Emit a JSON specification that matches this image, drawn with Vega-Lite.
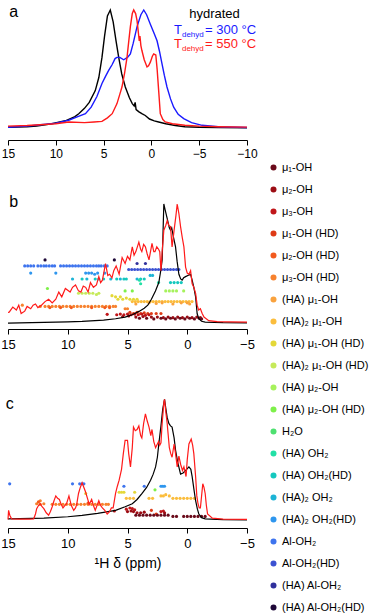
{
"$schema": "https://vega.github.io/schema/vega-lite/v6.json",
"padding": {"left": 0, "top": 3, "right": 0, "bottom": 0},
"background": "white",
"config": {
  "view": {"stroke": null},
  "font": "Liberation Sans",
  "axis": {"domainColor": "black", "tickColor": "black", "labelColor": "black", "labelFont": "Liberation Sans", "labelFontSize": 13, "tickSize": 5, "grid": false, "labelPadding": 4, "labelFlush": false, "titleFont": "Liberation Sans", "titleFontSize": 14, "titleFontWeight": "normal", "titleColor": "black", "titlePadding": 6},
  "legend": {"labelFont": "Liberation Sans", "labelFontSize": 11, "labelColor": "black"}
},
"datasets": {
  "species": [
    {"k": 1, "label": "μ₁-OH"}, {"k": 2, "label": "μ₂-OH"}, {"k": 3, "label": "μ₃-OH"},
    {"k": 4, "label": "μ₁-OH (HD)"}, {"k": 5, "label": "μ₂-OH (HD)"}, {"k": 6, "label": "μ₃-OH (HD)"},
    {"k": 7, "label": "(HA) μ₁-OH"}, {"k": 8, "label": "(HA)₂ μ₁-OH"}, {"k": 9, "label": "(HA) μ₁-OH (HD)"},
    {"k": 10, "label": "(HA)₂ μ₁-OH (HD)"}, {"k": 11, "label": "(HA) μ₂-OH"}, {"k": 12, "label": "(HA) μ₂-OH (HD)"},
    {"k": 13, "label": "H₂O"}, {"k": 14, "label": "(HA) OH₂"}, {"k": 15, "label": "(HA) OH₂(HD)"},
    {"k": 16, "label": "(HA)₂ OH₂"}, {"k": 17, "label": "(HA)₂ OH₂(HD)"}, {"k": 18, "label": "Al-OH₂"},
    {"k": 19, "label": "Al-OH₂(HD)"}, {"k": 20, "label": "(HA) Al-OH₂"}, {"k": 21, "label": "(HA) Al-OH₂(HD)"}
  ],
  "lines": [
    {"p":"a","s":"h","x":15,"y":0.01},{"p":"a","s":"h","x":13,"y":0.015},{"p":"a","s":"h","x":12,"y":0.02},{"p":"a","s":"h","x":10.4,"y":0.04},{"p":"a","s":"h","x":9,"y":0.065},{"p":"a","s":"h","x":8,"y":0.1},{"p":"a","s":"h","x":7.6,"y":0.125},{"p":"a","s":"h","x":7,"y":0.17},{"p":"a","s":"h","x":6.5,"y":0.22},{"p":"a","s":"h","x":5.87,"y":0.32},{"p":"a","s":"h","x":5.5,"y":0.43},{"p":"a","s":"h","x":5.17,"y":0.6},{"p":"a","s":"h","x":4.9,"y":0.78},{"p":"a","s":"h","x":4.6,"y":0.95},{"p":"a","s":"h","x":4.3,"y":1.0},{"p":"a","s":"h","x":4.0,"y":0.9},{"p":"a","s":"h","x":3.7,"y":0.74},{"p":"a","s":"h","x":3.42,"y":0.6},{"p":"a","s":"h","x":3.1,"y":0.46},{"p":"a","s":"h","x":2.73,"y":0.35},{"p":"a","s":"h","x":2.3,"y":0.26},{"p":"a","s":"h","x":2.0,"y":0.21},{"p":"a","s":"h","x":1.8,"y":0.19},{"p":"a","s":"h","x":1.7,"y":0.22},{"p":"a","s":"h","x":1.6,"y":0.16},{"p":"a","s":"h","x":1.3,"y":0.14},{"p":"a","s":"h","x":1.0,"y":0.125},{"p":"a","s":"h","x":0.64,"y":0.11},{"p":"a","s":"h","x":0.2,"y":0.08},{"p":"a","s":"h","x":-0.3,"y":0.065},{"p":"a","s":"h","x":-0.76,"y":0.055},{"p":"a","s":"h","x":-1.5,"y":0.04},{"p":"a","s":"h","x":-2.5,"y":0.025},{"p":"a","s":"h","x":-3.5,"y":0.015},{"p":"a","s":"h","x":-5,"y":0.01},{"p":"a","s":"h","x":-7,"y":0.007},{"p":"a","s":"h","x":-10,"y":0.005},
    {"p":"a","s":"b","x":15,"y":0.01},{"p":"a","s":"b","x":13,"y":0.02},{"p":"a","s":"b","x":12.1,"y":0.027},{"p":"a","s":"b","x":10,"y":0.045},{"p":"a","s":"b","x":8.65,"y":0.07},{"p":"a","s":"b","x":7.7,"y":0.1},{"p":"a","s":"b","x":6.9,"y":0.125},{"p":"a","s":"b","x":6.3,"y":0.18},{"p":"a","s":"b","x":5.7,"y":0.27},{"p":"a","s":"b","x":5.17,"y":0.38},{"p":"a","s":"b","x":4.8,"y":0.44},{"p":"a","s":"b","x":4.47,"y":0.49},{"p":"a","s":"b","x":4.1,"y":0.54},{"p":"a","s":"b","x":3.8,"y":0.59},{"p":"a","s":"b","x":3.6,"y":0.6},{"p":"a","s":"b","x":3.3,"y":0.6},{"p":"a","s":"b","x":2.9,"y":0.58},{"p":"a","s":"b","x":2.5,"y":0.6},{"p":"a","s":"b","x":2.2,"y":0.63},{"p":"a","s":"b","x":1.9,"y":0.72},{"p":"a","s":"b","x":1.5,"y":0.86},{"p":"a","s":"b","x":1.1,"y":0.96},{"p":"a","s":"b","x":0.8,"y":1.0},{"p":"a","s":"b","x":0.5,"y":0.96},{"p":"a","s":"b","x":0.11,"y":0.88},{"p":"a","s":"b","x":-0.3,"y":0.8},{"p":"a","s":"b","x":-0.59,"y":0.74},{"p":"a","s":"b","x":-0.85,"y":0.65},{"p":"a","s":"b","x":-1.1,"y":0.55},{"p":"a","s":"b","x":-1.35,"y":0.45},{"p":"a","s":"b","x":-1.63,"y":0.35},{"p":"a","s":"b","x":-2.0,"y":0.25},{"p":"a","s":"b","x":-2.33,"y":0.18},{"p":"a","s":"b","x":-2.8,"y":0.12},{"p":"a","s":"b","x":-3.38,"y":0.083},{"p":"a","s":"b","x":-4.2,"y":0.05},{"p":"a","s":"b","x":-5.3,"y":0.027},{"p":"a","s":"b","x":-7,"y":0.015},{"p":"a","s":"b","x":-10,"y":0.008},
    {"p":"a","s":"r","x":15,"y":0.02},{"p":"a","s":"r","x":13,"y":0.025},{"p":"a","s":"r","x":12.1,"y":0.03},{"p":"a","s":"r","x":10,"y":0.04},{"p":"a","s":"r","x":8.65,"y":0.055},{"p":"a","s":"r","x":7,"y":0.05},{"p":"a","s":"r","x":6,"y":0.055},{"p":"a","s":"r","x":5.17,"y":0.06},{"p":"a","s":"r","x":4.6,"y":0.09},{"p":"a","s":"r","x":4.1,"y":0.125},{"p":"a","s":"r","x":3.6,"y":0.21},{"p":"a","s":"r","x":3.3,"y":0.29},{"p":"a","s":"r","x":3.08,"y":0.35},{"p":"a","s":"r","x":2.8,"y":0.47},{"p":"a","s":"r","x":2.55,"y":0.6},{"p":"a","s":"r","x":2.35,"y":0.75},{"p":"a","s":"r","x":2.2,"y":0.86},{"p":"a","s":"r","x":2.0,"y":0.97},{"p":"a","s":"r","x":1.85,"y":1.0},{"p":"a","s":"r","x":1.65,"y":0.97},{"p":"a","s":"r","x":1.5,"y":0.91},{"p":"a","s":"r","x":1.35,"y":0.8},{"p":"a","s":"r","x":1.27,"y":0.74},{"p":"a","s":"r","x":1.2,"y":0.78},{"p":"a","s":"r","x":1.1,"y":0.7},{"p":"a","s":"r","x":1.0,"y":0.66},{"p":"a","s":"r","x":0.75,"y":0.58},{"p":"a","s":"r","x":0.46,"y":0.52},{"p":"a","s":"r","x":0.3,"y":0.53},{"p":"a","s":"r","x":0.11,"y":0.56},{"p":"a","s":"r","x":-0.1,"y":0.61},{"p":"a","s":"r","x":-0.24,"y":0.63},{"p":"a","s":"r","x":-0.46,"y":0.62},{"p":"a","s":"r","x":-0.6,"y":0.5},{"p":"a","s":"r","x":-0.76,"y":0.32},{"p":"a","s":"r","x":-0.93,"y":0.125},{"p":"a","s":"r","x":-1.2,"y":0.075},{"p":"a","s":"r","x":-1.45,"y":0.055},{"p":"a","s":"r","x":-2.2,"y":0.04},{"p":"a","s":"r","x":-3.5,"y":0.027},{"p":"a","s":"r","x":-5,"y":0.02},{"p":"a","s":"r","x":-7,"y":0.015},{"p":"a","s":"r","x":-10,"y":0.012},
    {"p":"b","s":"h","x":15,"y":0},{"p":"b","s":"h","x":12,"y":0.005},{"p":"b","s":"h","x":10,"y":0.01},{"p":"b","s":"h","x":8.8,"y":0.014},{"p":"b","s":"h","x":7,"y":0.025},{"p":"b","s":"h","x":6,"y":0.036},{"p":"b","s":"h","x":5.2,"y":0.05},{"p":"b","s":"h","x":4.6,"y":0.07},{"p":"b","s":"h","x":4.0,"y":0.1},{"p":"b","s":"h","x":3.6,"y":0.125},{"p":"b","s":"h","x":3.3,"y":0.15},{"p":"b","s":"h","x":3.0,"y":0.2},{"p":"b","s":"h","x":2.66,"y":0.27},{"p":"b","s":"h","x":2.38,"y":0.34},{"p":"b","s":"h","x":2.2,"y":0.45},{"p":"b","s":"h","x":2.1,"y":0.53},{"p":"b","s":"h","x":2.03,"y":0.75},{"p":"b","s":"h","x":1.96,"y":1.0},{"p":"b","s":"h","x":1.85,"y":0.95},{"p":"b","s":"h","x":1.68,"y":0.88},{"p":"b","s":"h","x":1.5,"y":0.8},{"p":"b","s":"h","x":1.4,"y":0.78},{"p":"b","s":"h","x":1.3,"y":0.8},{"p":"b","s":"h","x":1.15,"y":0.72},{"p":"b","s":"h","x":0.98,"y":0.64},{"p":"b","s":"h","x":0.85,"y":0.52},{"p":"b","s":"h","x":0.7,"y":0.41},{"p":"b","s":"h","x":0.55,"y":0.37},{"p":"b","s":"h","x":0.43,"y":0.36},{"p":"b","s":"h","x":0.3,"y":0.38},{"p":"b","s":"h","x":0.14,"y":0.39},{"p":"b","s":"h","x":-0.05,"y":0.4},{"p":"b","s":"h","x":-0.28,"y":0.41},{"p":"b","s":"h","x":-0.41,"y":0.36},{"p":"b","s":"h","x":-0.55,"y":0.3},{"p":"b","s":"h","x":-0.7,"y":0.22},{"p":"b","s":"h","x":-0.83,"y":0.078},{"p":"b","s":"h","x":-0.97,"y":0.036},{"p":"b","s":"h","x":-1.2,"y":0.015},{"p":"b","s":"h","x":-1.5,"y":0.008},{"p":"b","s":"h","x":-3,"y":0.003},{"p":"b","s":"h","x":-5,"y":0.002},
    {"p":"b","s":"r","x":15,"y":0.09},{"p":"b","s":"r","x":14.9,"y":0.092},{"p":"b","s":"r","x":14.6,"y":0.134},{"p":"b","s":"r","x":14.3,"y":0.11},{"p":"b","s":"r","x":14.1,"y":0.15},{"p":"b","s":"r","x":13.9,"y":0.08},{"p":"b","s":"r","x":13.6,"y":0.1},{"p":"b","s":"r","x":13.4,"y":0.14},{"p":"b","s":"r","x":13.1,"y":0.12},{"p":"b","s":"r","x":12.9,"y":0.15},{"p":"b","s":"r","x":12.7,"y":0.16},{"p":"b","s":"r","x":12.5,"y":0.13},{"p":"b","s":"r","x":12.2,"y":0.15},{"p":"b","s":"r","x":11.9,"y":0.18},{"p":"b","s":"r","x":11.6,"y":0.2},{"p":"b","s":"r","x":11.3,"y":0.17},{"p":"b","s":"r","x":11.0,"y":0.2},{"p":"b","s":"r","x":10.75,"y":0.26},{"p":"b","s":"r","x":10.5,"y":0.22},{"p":"b","s":"r","x":10.2,"y":0.29},{"p":"b","s":"r","x":9.8,"y":0.26},{"p":"b","s":"r","x":9.6,"y":0.3},{"p":"b","s":"r","x":9.35,"y":0.32},{"p":"b","s":"r","x":9.1,"y":0.27},{"p":"b","s":"r","x":8.9,"y":0.26},{"p":"b","s":"r","x":8.7,"y":0.31},{"p":"b","s":"r","x":8.5,"y":0.3},{"p":"b","s":"r","x":8.3,"y":0.26},{"p":"b","s":"r","x":8.1,"y":0.34},{"p":"b","s":"r","x":7.85,"y":0.3},{"p":"b","s":"r","x":7.6,"y":0.32},{"p":"b","s":"r","x":7.4,"y":0.39},{"p":"b","s":"r","x":7.25,"y":0.34},{"p":"b","s":"r","x":7.1,"y":0.36},{"p":"b","s":"r","x":6.84,"y":0.5},{"p":"b","s":"r","x":6.65,"y":0.4},{"p":"b","s":"r","x":6.5,"y":0.41},{"p":"b","s":"r","x":6.3,"y":0.38},{"p":"b","s":"r","x":6.15,"y":0.44},{"p":"b","s":"r","x":5.95,"y":0.48},{"p":"b","s":"r","x":5.7,"y":0.41},{"p":"b","s":"r","x":5.45,"y":0.55},{"p":"b","s":"r","x":5.2,"y":0.5},{"p":"b","s":"r","x":5.0,"y":0.56},{"p":"b","s":"r","x":4.8,"y":0.53},{"p":"b","s":"r","x":4.6,"y":0.64},{"p":"b","s":"r","x":4.45,"y":0.57},{"p":"b","s":"r","x":4.3,"y":0.6},{"p":"b","s":"r","x":4.05,"y":0.68},{"p":"b","s":"r","x":3.9,"y":0.62},{"p":"b","s":"r","x":3.8,"y":0.6},{"p":"b","s":"r","x":3.65,"y":0.66},{"p":"b","s":"r","x":3.5,"y":0.64},{"p":"b","s":"r","x":3.35,"y":0.58},{"p":"b","s":"r","x":3.2,"y":0.53},{"p":"b","s":"r","x":2.95,"y":0.67},{"p":"b","s":"r","x":2.8,"y":0.6},{"p":"b","s":"r","x":2.7,"y":0.6},{"p":"b","s":"r","x":2.55,"y":0.64},{"p":"b","s":"r","x":2.4,"y":0.62},{"p":"b","s":"r","x":2.3,"y":0.6},{"p":"b","s":"r","x":2.2,"y":0.44},{"p":"b","s":"r","x":2.1,"y":0.6},{"p":"b","s":"r","x":1.96,"y":0.78},{"p":"b","s":"r","x":1.8,"y":0.82},{"p":"b","s":"r","x":1.68,"y":0.86},{"p":"b","s":"r","x":1.55,"y":0.82},{"p":"b","s":"r","x":1.4,"y":0.81},{"p":"b","s":"r","x":1.27,"y":0.64},{"p":"b","s":"r","x":1.1,"y":0.78},{"p":"b","s":"r","x":0.95,"y":0.9},{"p":"b","s":"r","x":0.84,"y":1.0},{"p":"b","s":"r","x":0.7,"y":0.92},{"p":"b","s":"r","x":0.56,"y":0.81},{"p":"b","s":"r","x":0.42,"y":0.72},{"p":"b","s":"r","x":0.28,"y":0.64},{"p":"b","s":"r","x":0.14,"y":0.47},{"p":"b","s":"r","x":0.0,"y":0.42},{"p":"b","s":"r","x":-0.14,"y":0.41},{"p":"b","s":"r","x":-0.28,"y":0.44},{"p":"b","s":"r","x":-0.41,"y":0.33},{"p":"b","s":"r","x":-0.55,"y":0.3},{"p":"b","s":"r","x":-0.7,"y":0.25},{"p":"b","s":"r","x":-0.83,"y":0.15},{"p":"b","s":"r","x":-0.95,"y":0.11},{"p":"b","s":"r","x":-1.1,"y":0.12},{"p":"b","s":"r","x":-1.25,"y":0.08},{"p":"b","s":"r","x":-1.4,"y":0.05},{"p":"b","s":"r","x":-1.8,"y":0.02},{"p":"b","s":"r","x":-2.5,"y":0.012},{"p":"b","s":"r","x":-3.5,"y":0.01},{"p":"b","s":"r","x":-5,"y":0.008},
    {"p":"c","s":"h","x":15,"y":0.01},{"p":"c","s":"h","x":13,"y":0.013},{"p":"c","s":"h","x":12,"y":0.015},{"p":"c","s":"h","x":10,"y":0.027},{"p":"c","s":"h","x":8.8,"y":0.039},{"p":"c","s":"h","x":7.5,"y":0.055},{"p":"c","s":"h","x":6.0,"y":0.08},{"p":"c","s":"h","x":5.2,"y":0.11},{"p":"c","s":"h","x":4.6,"y":0.135},{"p":"c","s":"h","x":4.2,"y":0.17},{"p":"c","s":"h","x":3.78,"y":0.22},{"p":"c","s":"h","x":3.4,"y":0.27},{"p":"c","s":"h","x":3.07,"y":0.33},{"p":"c","s":"h","x":2.85,"y":0.38},{"p":"c","s":"h","x":2.65,"y":0.44},{"p":"c","s":"h","x":2.5,"y":0.52},{"p":"c","s":"h","x":2.38,"y":0.63},{"p":"c","s":"h","x":2.2,"y":0.78},{"p":"c","s":"h","x":2.05,"y":0.92},{"p":"c","s":"h","x":1.9,"y":1.0},{"p":"c","s":"h","x":1.8,"y":0.93},{"p":"c","s":"h","x":1.68,"y":0.85},{"p":"c","s":"h","x":1.54,"y":0.8},{"p":"c","s":"h","x":1.4,"y":0.78},{"p":"c","s":"h","x":1.27,"y":0.77},{"p":"c","s":"h","x":1.1,"y":0.68},{"p":"c","s":"h","x":0.98,"y":0.58},{"p":"c","s":"h","x":0.8,"y":0.48},{"p":"c","s":"h","x":0.56,"y":0.38},{"p":"c","s":"h","x":0.35,"y":0.39},{"p":"c","s":"h","x":0.14,"y":0.41},{"p":"c","s":"h","x":-0.14,"y":0.44},{"p":"c","s":"h","x":-0.3,"y":0.42},{"p":"c","s":"h","x":-0.41,"y":0.36},{"p":"c","s":"h","x":-0.55,"y":0.26},{"p":"c","s":"h","x":-0.7,"y":0.16},{"p":"c","s":"h","x":-0.85,"y":0.09},{"p":"c","s":"h","x":-0.97,"y":0.05},{"p":"c","s":"h","x":-1.2,"y":0.02},{"p":"c","s":"h","x":-1.5,"y":0.01},{"p":"c","s":"h","x":-3,"y":0.003},{"p":"c","s":"h","x":-5,"y":0.002},
    {"p":"c","s":"r","x":15,"y":0.005},{"p":"c","s":"r","x":14.95,"y":0.08},{"p":"c","s":"r","x":14.85,"y":0.04},{"p":"c","s":"r","x":14.7,"y":0.01},{"p":"c","s":"r","x":14,"y":0.008},{"p":"c","s":"r","x":13.2,"y":0.008},{"p":"c","s":"r","x":12.85,"y":0.01},{"p":"c","s":"r","x":12.7,"y":0.05},{"p":"c","s":"r","x":12.6,"y":0.094},{"p":"c","s":"r","x":12.45,"y":0.12},{"p":"c","s":"r","x":12.3,"y":0.135},{"p":"c","s":"r","x":12.15,"y":0.11},{"p":"c","s":"r","x":12.0,"y":0.094},{"p":"c","s":"r","x":11.8,"y":0.06},{"p":"c","s":"r","x":11.6,"y":0.04},{"p":"c","s":"r","x":11.45,"y":0.07},{"p":"c","s":"r","x":11.3,"y":0.11},{"p":"c","s":"r","x":11.15,"y":0.16},{"p":"c","s":"r","x":11.0,"y":0.2},{"p":"c","s":"r","x":10.85,"y":0.18},{"p":"c","s":"r","x":10.7,"y":0.17},{"p":"c","s":"r","x":10.55,"y":0.13},{"p":"c","s":"r","x":10.4,"y":0.1},{"p":"c","s":"r","x":10.25,"y":0.12},{"p":"c","s":"r","x":10.1,"y":0.135},{"p":"c","s":"r","x":9.9,"y":0.2},{"p":"c","s":"r","x":9.7,"y":0.12},{"p":"c","s":"r","x":9.5,"y":0.08},{"p":"c","s":"r","x":9.35,"y":0.1},{"p":"c","s":"r","x":9.25,"y":0.13},{"p":"c","s":"r","x":9.1,"y":0.22},{"p":"c","s":"r","x":8.95,"y":0.27},{"p":"c","s":"r","x":8.8,"y":0.31},{"p":"c","s":"r","x":8.65,"y":0.27},{"p":"c","s":"r","x":8.5,"y":0.23},{"p":"c","s":"r","x":8.35,"y":0.18},{"p":"c","s":"r","x":8.2,"y":0.13},{"p":"c","s":"r","x":8.0,"y":0.17},{"p":"c","s":"r","x":7.85,"y":0.12},{"p":"c","s":"r","x":7.7,"y":0.08},{"p":"c","s":"r","x":7.55,"y":0.12},{"p":"c","s":"r","x":7.4,"y":0.16},{"p":"c","s":"r","x":7.25,"y":0.12},{"p":"c","s":"r","x":7.1,"y":0.1},{"p":"c","s":"r","x":6.9,"y":0.08},{"p":"c","s":"r","x":6.7,"y":0.05},{"p":"c","s":"r","x":6.5,"y":0.07},{"p":"c","s":"r","x":6.35,"y":0.1},{"p":"c","s":"r","x":6.2,"y":0.1},{"p":"c","s":"r","x":6.0,"y":0.22},{"p":"c","s":"r","x":5.85,"y":0.28},{"p":"c","s":"r","x":5.7,"y":0.33},{"p":"c","s":"r","x":5.5,"y":0.42},{"p":"c","s":"r","x":5.35,"y":0.55},{"p":"c","s":"r","x":5.2,"y":0.66},{"p":"c","s":"r","x":5.0,"y":0.66},{"p":"c","s":"r","x":4.9,"y":0.55},{"p":"c","s":"r","x":4.75,"y":0.44},{"p":"c","s":"r","x":4.6,"y":0.6},{"p":"c","s":"r","x":4.5,"y":0.77},{"p":"c","s":"r","x":4.35,"y":0.74},{"p":"c","s":"r","x":4.2,"y":0.75},{"p":"c","s":"r","x":4.05,"y":0.78},{"p":"c","s":"r","x":3.9,"y":0.7},{"p":"c","s":"r","x":3.8,"y":0.68},{"p":"c","s":"r","x":3.65,"y":0.8},{"p":"c","s":"r","x":3.5,"y":0.88},{"p":"c","s":"r","x":3.35,"y":0.82},{"p":"c","s":"r","x":3.2,"y":0.77},{"p":"c","s":"r","x":3.05,"y":0.7},{"p":"c","s":"r","x":2.95,"y":0.75},{"p":"c","s":"r","x":2.8,"y":0.65},{"p":"c","s":"r","x":2.65,"y":0.6},{"p":"c","s":"r","x":2.5,"y":0.63},{"p":"c","s":"r","x":2.4,"y":0.65},{"p":"c","s":"r","x":2.3,"y":0.62},{"p":"c","s":"r","x":2.2,"y":0.64},{"p":"c","s":"r","x":2.1,"y":0.8},{"p":"c","s":"r","x":1.95,"y":0.98},{"p":"c","s":"r","x":1.9,"y":1.0},{"p":"c","s":"r","x":1.8,"y":0.9},{"p":"c","s":"r","x":1.68,"y":0.8},{"p":"c","s":"r","x":1.5,"y":0.6},{"p":"c","s":"r","x":1.38,"y":0.55},{"p":"c","s":"r","x":1.27,"y":0.52},{"p":"c","s":"r","x":1.1,"y":0.63},{"p":"c","s":"r","x":0.98,"y":0.55},{"p":"c","s":"r","x":0.84,"y":0.44},{"p":"c","s":"r","x":0.7,"y":0.53},{"p":"c","s":"r","x":0.55,"y":0.46},{"p":"c","s":"r","x":0.4,"y":0.41},{"p":"c","s":"r","x":0.28,"y":0.44},{"p":"c","s":"r","x":0.1,"y":0.36},{"p":"c","s":"r","x":0.0,"y":0.5},{"p":"c","s":"r","x":-0.14,"y":0.63},{"p":"c","s":"r","x":-0.33,"y":0.67},{"p":"c","s":"r","x":-0.45,"y":0.62},{"p":"c","s":"r","x":-0.55,"y":0.55},{"p":"c","s":"r","x":-0.7,"y":0.36},{"p":"c","s":"r","x":-0.8,"y":0.2},{"p":"c","s":"r","x":-0.9,"y":0.135},{"p":"c","s":"r","x":-1.0,"y":0.1},{"p":"c","s":"r","x":-1.1,"y":0.1},{"p":"c","s":"r","x":-1.2,"y":0.2},{"p":"c","s":"r","x":-1.3,"y":0.3},{"p":"c","s":"r","x":-1.4,"y":0.27},{"p":"c","s":"r","x":-1.5,"y":0.22},{"p":"c","s":"r","x":-1.6,"y":0.12},{"p":"c","s":"r","x":-1.7,"y":0.05},{"p":"c","s":"r","x":-2.1,"y":0.015},{"p":"c","s":"r","x":-3,"y":0.008},{"p":"c","s":"r","x":-5,"y":0.005}
  ],
  "pts": [
    {"p":"b","k":21,"x":11.9,"y":0.53},{"p":"b","k":21,"x":6.1,"y":0.53},
    {"p":"b","k":20,"x":4.2,"y":0.5},{"p":"b","k":20,"x":3.5,"y":0.5},
    {"p":"b","k":18,"x":13.6,"y":0.48},{"p":"b","k":18,"x":13.35,"y":0.48},{"p":"b","k":18,"x":13.1,"y":0.48},{"p":"b","k":18,"x":12.85,"y":0.48},{"p":"b","k":18,"x":12.5,"y":0.48},{"p":"b","k":18,"x":12.25,"y":0.48},{"p":"b","k":18,"x":12.0,"y":0.48},{"p":"b","k":18,"x":11.8,"y":0.48},{"p":"b","k":18,"x":11.55,"y":0.48},{"p":"b","k":18,"x":11.3,"y":0.48},{"p":"b","k":18,"x":11.1,"y":0.48},{"p":"b","k":18,"x":10.6,"y":0.48},{"p":"b","k":18,"x":10.35,"y":0.48},{"p":"b","k":18,"x":10.1,"y":0.48},{"p":"b","k":18,"x":9.85,"y":0.48},{"p":"b","k":18,"x":9.6,"y":0.48},{"p":"b","k":18,"x":9.35,"y":0.48},{"p":"b","k":18,"x":9.1,"y":0.48},{"p":"b","k":18,"x":8.85,"y":0.48},{"p":"b","k":18,"x":8.6,"y":0.48},{"p":"b","k":18,"x":8.35,"y":0.48},{"p":"b","k":18,"x":8.1,"y":0.48},{"p":"b","k":18,"x":7.85,"y":0.48},{"p":"b","k":18,"x":7.6,"y":0.48},{"p":"b","k":18,"x":7.4,"y":0.48},{"p":"b","k":18,"x":7.2,"y":0.48},{"p":"b","k":18,"x":6.95,"y":0.48},{"p":"b","k":18,"x":6.7,"y":0.48},
    {"p":"b","k":19,"x":4.9,"y":0.45},{"p":"b","k":19,"x":4.65,"y":0.45},{"p":"b","k":19,"x":4.4,"y":0.45},{"p":"b","k":19,"x":4.15,"y":0.45},{"p":"b","k":19,"x":3.9,"y":0.45},{"p":"b","k":19,"x":3.65,"y":0.45},{"p":"b","k":19,"x":3.4,"y":0.45},{"p":"b","k":19,"x":3.15,"y":0.45},{"p":"b","k":19,"x":2.9,"y":0.45},{"p":"b","k":19,"x":2.65,"y":0.45},{"p":"b","k":19,"x":2.4,"y":0.45},{"p":"b","k":19,"x":2.15,"y":0.45},{"p":"b","k":19,"x":1.9,"y":0.45},{"p":"b","k":19,"x":1.65,"y":0.45},{"p":"b","k":19,"x":1.4,"y":0.45},{"p":"b","k":19,"x":1.15,"y":0.45},{"p":"b","k":19,"x":0.9,"y":0.45},{"p":"b","k":19,"x":0.7,"y":0.45},
    {"p":"b","k":17,"x":13.1,"y":0.42},{"p":"b","k":17,"x":11.0,"y":0.42},{"p":"b","k":17,"x":8.5,"y":0.42},{"p":"b","k":17,"x":8.25,"y":0.42},{"p":"b","k":17,"x":8.0,"y":0.42},{"p":"b","k":17,"x":7.75,"y":0.41},{"p":"b","k":17,"x":7.5,"y":0.42},{"p":"b","k":17,"x":6.9,"y":0.42},
    {"p":"b","k":16,"x":9.6,"y":0.37},{"p":"b","k":16,"x":8.4,"y":0.37},{"p":"b","k":16,"x":7.4,"y":0.37},{"p":"b","k":16,"x":6.4,"y":0.37},{"p":"b","k":16,"x":5.6,"y":0.37},{"p":"b","k":16,"x":4.2,"y":0.37},{"p":"b","k":16,"x":3.1,"y":0.4},{"p":"b","k":16,"x":2.9,"y":0.4},
    {"p":"b","k":15,"x":8.8,"y":0.37},{"p":"b","k":15,"x":7.7,"y":0.37},{"p":"b","k":15,"x":7.0,"y":0.37},{"p":"b","k":15,"x":5.9,"y":0.37},{"p":"b","k":15,"x":5.3,"y":0.37},{"p":"b","k":15,"x":5.1,"y":0.37},{"p":"b","k":15,"x":3.9,"y":0.37},{"p":"b","k":15,"x":3.6,"y":0.37},{"p":"b","k":15,"x":1.4,"y":0.34},{"p":"b","k":15,"x":1.1,"y":0.34},{"p":"b","k":15,"x":0.8,"y":0.34},{"p":"b","k":15,"x":0.5,"y":0.34},
    {"p":"b","k":14,"x":3.9,"y":0.33},{"p":"b","k":14,"x":2.4,"y":0.34},{"p":"b","k":14,"x":4.0,"y":0.36},
    {"p":"b","k":12,"x":11.7,"y":0.29},{"p":"b","k":12,"x":5.2,"y":0.27},{"p":"b","k":12,"x":4.6,"y":0.27},
    {"p":"b","k":11,"x":1.8,"y":0.27},{"p":"b","k":11,"x":1.5,"y":0.27},{"p":"b","k":11,"x":1.2,"y":0.27},{"p":"b","k":11,"x":0.9,"y":0.27},{"p":"b","k":11,"x":0.3,"y":0.27},
    {"p":"b","k":10,"x":9.1,"y":0.25},{"p":"b","k":10,"x":8.8,"y":0.25},{"p":"b","k":10,"x":8.5,"y":0.25},{"p":"b","k":10,"x":8.2,"y":0.25},{"p":"b","k":10,"x":7.9,"y":0.25},{"p":"b","k":10,"x":7.6,"y":0.24},{"p":"b","k":10,"x":7.4,"y":0.25},
    {"p":"b","k":9,"x":6.3,"y":0.23},{"p":"b","k":9,"x":6.0,"y":0.22},{"p":"b","k":9,"x":5.8,"y":0.2},{"p":"b","k":9,"x":5.6,"y":0.22},{"p":"b","k":9,"x":5.4,"y":0.2},{"p":"b","k":9,"x":5.1,"y":0.21},{"p":"b","k":9,"x":4.8,"y":0.2},{"p":"b","k":9,"x":4.5,"y":0.2},{"p":"b","k":9,"x":4.2,"y":0.2},
    {"p":"b","k":8,"x":4.6,"y":0.18},{"p":"b","k":8,"x":4.35,"y":0.18},{"p":"b","k":8,"x":4.1,"y":0.18},{"p":"b","k":8,"x":3.85,"y":0.18},{"p":"b","k":8,"x":3.6,"y":0.18},{"p":"b","k":8,"x":3.35,"y":0.18},{"p":"b","k":8,"x":3.1,"y":0.18},{"p":"b","k":8,"x":2.85,"y":0.18},{"p":"b","k":8,"x":2.6,"y":0.18},{"p":"b","k":8,"x":2.35,"y":0.18},{"p":"b","k":8,"x":2.1,"y":0.18},{"p":"b","k":8,"x":1.85,"y":0.18},{"p":"b","k":8,"x":1.6,"y":0.18},{"p":"b","k":8,"x":1.35,"y":0.18},{"p":"b","k":8,"x":1.1,"y":0.18},{"p":"b","k":8,"x":0.85,"y":0.18},{"p":"b","k":8,"x":0.6,"y":0.18},{"p":"b","k":8,"x":0.35,"y":0.18},{"p":"b","k":8,"x":0.1,"y":0.18},{"p":"b","k":8,"x":-0.15,"y":0.18},{"p":"b","k":8,"x":-0.4,"y":0.18},
    {"p":"b","k":7,"x":4.3,"y":0.16},{"p":"b","k":7,"x":3.2,"y":0.17},{"p":"b","k":7,"x":2.6,"y":0.165},{"p":"b","k":7,"x":2.1,"y":0.17},{"p":"b","k":7,"x":1.2,"y":0.16},{"p":"b","k":7,"x":0.5,"y":0.17},{"p":"b","k":7,"x":0.0,"y":0.17},{"p":"b","k":7,"x":-0.2,"y":0.16},
    {"p":"b","k":6,"x":13.8,"y":0.15},{"p":"b","k":6,"x":12.3,"y":0.14},{"p":"b","k":6,"x":11.9,"y":0.14},{"p":"b","k":6,"x":11.6,"y":0.14},{"p":"b","k":6,"x":11.3,"y":0.14},{"p":"b","k":6,"x":11.0,"y":0.14},{"p":"b","k":6,"x":10.7,"y":0.14},{"p":"b","k":6,"x":10.4,"y":0.14},{"p":"b","k":6,"x":10.1,"y":0.14},{"p":"b","k":6,"x":9.8,"y":0.14},{"p":"b","k":6,"x":9.5,"y":0.14},{"p":"b","k":6,"x":9.2,"y":0.14},{"p":"b","k":6,"x":8.9,"y":0.14},{"p":"b","k":6,"x":8.6,"y":0.14},{"p":"b","k":6,"x":8.3,"y":0.14},{"p":"b","k":6,"x":8.0,"y":0.14},{"p":"b","k":6,"x":7.7,"y":0.14},{"p":"b","k":6,"x":7.4,"y":0.14},{"p":"b","k":6,"x":7.1,"y":0.14},{"p":"b","k":6,"x":6.8,"y":0.14},{"p":"b","k":6,"x":6.5,"y":0.14},{"p":"b","k":6,"x":6.2,"y":0.14},{"p":"b","k":6,"x":6.0,"y":0.14},{"p":"b","k":6,"x":5.2,"y":0.12},{"p":"b","k":6,"x":5.0,"y":0.12},
    {"p":"b","k":5,"x":11.5,"y":0.13},{"p":"b","k":5,"x":10.6,"y":0.13},{"p":"b","k":5,"x":9.7,"y":0.13},{"p":"b","k":5,"x":8.0,"y":0.13},{"p":"b","k":5,"x":6.9,"y":0.13},{"p":"b","k":5,"x":6.5,"y":0.13},
    {"p":"b","k":4,"x":4.8,"y":0.09},{"p":"b","k":4,"x":4.5,"y":0.08},{"p":"b","k":4,"x":4.2,"y":0.09},{"p":"b","k":4,"x":3.9,"y":0.08},{"p":"b","k":4,"x":3.6,"y":0.085},{"p":"b","k":4,"x":3.3,"y":0.08},{"p":"b","k":4,"x":3.0,"y":0.08},{"p":"b","k":4,"x":2.6,"y":0.08},{"p":"b","k":4,"x":2.2,"y":0.08},
    {"p":"b","k":3,"x":6.7,"y":0.073},{"p":"b","k":3,"x":5.9,"y":0.07},{"p":"b","k":3,"x":5.6,"y":0.075},{"p":"b","k":3,"x":5.3,"y":0.07},{"p":"b","k":3,"x":5.0,"y":0.075},{"p":"b","k":3,"x":4.7,"y":0.07},{"p":"b","k":3,"x":4.4,"y":0.075},{"p":"b","k":3,"x":4.1,"y":0.07},{"p":"b","k":3,"x":3.8,"y":0.075},{"p":"b","k":3,"x":3.5,"y":0.065},{"p":"b","k":3,"x":3.2,"y":0.07},
    {"p":"b","k":2,"x":5.4,"y":0.055},{"p":"b","k":2,"x":4.9,"y":0.06},{"p":"b","k":2,"x":4.3,"y":0.05},{"p":"b","k":2,"x":3.7,"y":0.055},{"p":"b","k":2,"x":3.0,"y":0.05},{"p":"b","k":2,"x":2.5,"y":0.05},{"p":"b","k":2,"x":2.0,"y":0.045},{"p":"b","k":2,"x":1.6,"y":0.05},{"p":"b","k":2,"x":1.2,"y":0.045},{"p":"b","k":2,"x":0.8,"y":0.05},{"p":"b","k":2,"x":0.4,"y":0.045},{"p":"b","k":2,"x":0.0,"y":0.05},{"p":"b","k":2,"x":-0.4,"y":0.045},{"p":"b","k":2,"x":-0.8,"y":0.05},{"p":"b","k":2,"x":-1.1,"y":0.045},
    {"p":"b","k":1,"x":4.0,"y":0.04},{"p":"b","k":1,"x":3.4,"y":0.04},{"p":"b","k":1,"x":2.8,"y":0.035},{"p":"b","k":1,"x":2.2,"y":0.04},{"p":"b","k":1,"x":1.8,"y":0.035},{"p":"b","k":1,"x":1.4,"y":0.04},{"p":"b","k":1,"x":1.0,"y":0.035},{"p":"b","k":1,"x":0.6,"y":0.04},{"p":"b","k":1,"x":0.2,"y":0.035},{"p":"b","k":1,"x":-0.2,"y":0.04},{"p":"b","k":1,"x":-0.6,"y":0.035},{"p":"b","k":1,"x":-1.0,"y":0.04},{"p":"b","k":1,"x":-1.2,"y":0.035},
    {"p":"c","k":18,"x":14.86,"y":0.3},{"p":"c","k":18,"x":9.6,"y":0.3},{"p":"c","k":18,"x":9.0,"y":0.3},{"p":"c","k":18,"x":8.8,"y":0.3},{"p":"c","k":18,"x":8.65,"y":0.3},{"p":"c","k":18,"x":5.3,"y":0.28},{"p":"c","k":18,"x":3.6,"y":0.28},
    {"p":"c","k":17,"x":2.2,"y":0.28},{"p":"c","k":17,"x":2.05,"y":0.28},{"p":"c","k":17,"x":1.9,"y":0.28},
    {"p":"c","k":9,"x":8.5,"y":0.22},{"p":"c","k":9,"x":5.7,"y":0.23},{"p":"c","k":9,"x":5.5,"y":0.23},{"p":"c","k":9,"x":5.3,"y":0.23},{"p":"c","k":9,"x":4.4,"y":0.23},
    {"p":"c","k":12,"x":2.7,"y":0.25},
    {"p":"c","k":8,"x":5.1,"y":0.18},{"p":"c","k":8,"x":4.8,"y":0.18},{"p":"c","k":8,"x":4.5,"y":0.18},{"p":"c","k":8,"x":3.2,"y":0.18},{"p":"c","k":8,"x":2.9,"y":0.18},{"p":"c","k":8,"x":2.2,"y":0.2},{"p":"c","k":8,"x":2.0,"y":0.2},{"p":"c","k":8,"x":1.8,"y":0.21},{"p":"c","k":8,"x":1.5,"y":0.2},{"p":"c","k":8,"x":1.2,"y":0.18},{"p":"c","k":8,"x":0.9,"y":0.18},{"p":"c","k":8,"x":0.6,"y":0.18},{"p":"c","k":8,"x":0.3,"y":0.18},{"p":"c","k":8,"x":0.0,"y":0.18},{"p":"c","k":8,"x":-0.3,"y":0.18},{"p":"c","k":8,"x":-0.6,"y":0.18},
    {"p":"c","k":6,"x":12.6,"y":0.135},{"p":"c","k":6,"x":12.3,"y":0.16},{"p":"c","k":6,"x":12.3,"y":0.13},{"p":"c","k":6,"x":12.0,"y":0.135},{"p":"c","k":6,"x":11.3,"y":0.13},{"p":"c","k":6,"x":11.0,"y":0.13},{"p":"c","k":6,"x":10.7,"y":0.13},{"p":"c","k":6,"x":10.4,"y":0.13},{"p":"c","k":6,"x":10.1,"y":0.13},{"p":"c","k":6,"x":9.8,"y":0.13},{"p":"c","k":6,"x":9.5,"y":0.13},{"p":"c","k":6,"x":9.2,"y":0.13},{"p":"c","k":6,"x":8.9,"y":0.13},{"p":"c","k":6,"x":8.6,"y":0.13},{"p":"c","k":6,"x":8.3,"y":0.13},{"p":"c","k":6,"x":8.0,"y":0.13},{"p":"c","k":6,"x":7.7,"y":0.13},{"p":"c","k":6,"x":7.4,"y":0.13},{"p":"c","k":6,"x":7.1,"y":0.13},{"p":"c","k":6,"x":6.8,"y":0.13},{"p":"c","k":6,"x":6.6,"y":0.13},
    {"p":"c","k":5,"x":12.45,"y":0.15},{"p":"c","k":5,"x":8.3,"y":0.14},
    {"p":"c","k":4,"x":3.0,"y":0.08},{"p":"c","k":4,"x":2.6,"y":0.05},
    {"p":"c","k":3,"x":6.1,"y":0.075},{"p":"c","k":3,"x":5.1,"y":0.09},{"p":"c","k":3,"x":4.8,"y":0.1},{"p":"c","k":3,"x":4.6,"y":0.095},{"p":"c","k":3,"x":4.4,"y":0.085},{"p":"c","k":3,"x":2.2,"y":0.07},{"p":"c","k":3,"x":2.0,"y":0.075},
    {"p":"c","k":2,"x":5.0,"y":0.07},{"p":"c","k":2,"x":4.7,"y":0.075},{"p":"c","k":2,"x":4.5,"y":0.07},{"p":"c","k":2,"x":4.2,"y":0.06},{"p":"c","k":2,"x":3.9,"y":0.06},{"p":"c","k":2,"x":3.6,"y":0.065},{"p":"c","k":2,"x":1.9,"y":0.06},
    {"p":"c","k":1,"x":4.3,"y":0.04},{"p":"c","k":1,"x":4.0,"y":0.04},{"p":"c","k":1,"x":3.7,"y":0.04},{"p":"c","k":1,"x":3.4,"y":0.04},{"p":"c","k":1,"x":3.1,"y":0.04},{"p":"c","k":1,"x":2.8,"y":0.04},{"p":"c","k":1,"x":2.5,"y":0.04},{"p":"c","k":1,"x":2.2,"y":0.04},{"p":"c","k":1,"x":1.9,"y":0.04},{"p":"c","k":1,"x":1.6,"y":0.04},{"p":"c","k":1,"x":1.2,"y":0.03},{"p":"c","k":1,"x":0.9,"y":0.03},{"p":"c","k":1,"x":0.3,"y":0.03},{"p":"c","k":1,"x":0.0,"y":0.03},{"p":"c","k":1,"x":-0.3,"y":0.03},{"p":"c","k":1,"x":-0.6,"y":0.03},{"p":"c","k":1,"x":-0.9,"y":0.03},{"p":"c","k":1,"x":-1.2,"y":0.03},{"p":"c","k":1,"x":-1.5,"y":0.03}
  ]
},
"bounds": "flush",
"spacing": 54,
"resolve": {"scale": {"x": "independent", "y": "independent", "color": "shared", "stroke": "independent"}},
"vconcat": [
  {
    "width": 239, "height": 130,
    "layer": [
      {
        "data": {"name": "lines"},
        "transform": [{"filter": {"field": "p", "equal": "a"}}],
        "mark": {"type": "line", "strokeWidth": 1.4},
        "encoding": {
          "x": {"field": "x", "type": "quantitative", "scale": {"domain": [15, -10], "nice": false, "zero": false}, "axis": {"values": [15, 10, 5, 0, -5, -10], "title": null, "labelFontSize": 12, "labelPadding": 3}},
          "y": {"field": "y", "type": "quantitative", "scale": {"domain": [-0.097, 1.0], "nice": false, "zero": false}, "axis": null},
          "stroke": {"field": "s", "type": "nominal", "scale": {"domain": ["b", "r", "h"], "range": ["#1a1aff", "#ff1a1a", "#000000"]}, "legend": null},
          "order": {"field": "x", "type": "quantitative"}
        }
      },
      {"data": {"values": [{}]}, "mark": {"type": "text", "text": "a", "fontSize": 16, "align": "center", "baseline": "middle", "color": "black"}, "encoding": {"x": {"datum": 14.4, "type": "quantitative"}, "y": {"datum": 0.985, "type": "quantitative"}}},
      {"data": {"values": [{}]}, "mark": {"type": "text", "text": "hydrated", "fontSize": 13, "align": "center", "baseline": "middle", "color": "black"}, "encoding": {"x": {"datum": -6.6, "type": "quantitative"}, "y": {"datum": 0.969, "type": "quantitative"}}},
      {"data": {"values": [{}]}, "mark": {"type": "text", "text": "T", "fontSize": 13, "align": "left", "baseline": "middle", "color": "#1a1aff"}, "encoding": {"x": {"datum": -2.36, "type": "quantitative"}, "y": {"datum": 0.834, "type": "quantitative"}}},
      {"data": {"values": [{}]}, "mark": {"type": "text", "text": "dehyd", "fontSize": 8, "align": "left", "baseline": "middle", "color": "#1a1aff", "dx": 8, "dy": 5}, "encoding": {"x": {"datum": -2.36, "type": "quantitative"}, "y": {"datum": 0.834, "type": "quantitative"}}},
      {"data": {"values": [{}]}, "mark": {"type": "text", "text": "= 300 °C", "fontSize": 13, "align": "left", "baseline": "middle", "color": "#1a1aff", "dx": 31}, "encoding": {"x": {"datum": -2.36, "type": "quantitative"}, "y": {"datum": 0.834, "type": "quantitative"}}},
      {"data": {"values": [{}]}, "mark": {"type": "text", "text": "T", "fontSize": 13, "align": "left", "baseline": "middle", "color": "#ff1a1a"}, "encoding": {"x": {"datum": -2.36, "type": "quantitative"}, "y": {"datum": 0.716, "type": "quantitative"}}},
      {"data": {"values": [{}]}, "mark": {"type": "text", "text": "dehyd", "fontSize": 8, "align": "left", "baseline": "middle", "color": "#ff1a1a", "dx": 8, "dy": 5}, "encoding": {"x": {"datum": -2.36, "type": "quantitative"}, "y": {"datum": 0.716, "type": "quantitative"}}},
      {"data": {"values": [{}]}, "mark": {"type": "text", "text": "= 550 °C", "fontSize": 13, "align": "left", "baseline": "middle", "color": "#ff1a1a", "dx": 31}, "encoding": {"x": {"datum": -2.36, "type": "quantitative"}, "y": {"datum": 0.716, "type": "quantitative"}}}
    ]
  },
  {
    "width": 239, "height": 135,
    "layer": [
      {
        "data": {"name": "pts"},
        "transform": [{"filter": {"field": "p", "equal": "b"}}, {"lookup": "k", "from": {"data": {"name": "species"}, "key": "k", "fields": ["label"]}}],
        "mark": {"type": "circle", "size": 10, "opacity": 1},
        "encoding": {
          "x": {"field": "x", "type": "quantitative", "scale": {"domain": [15, -5], "nice": false, "zero": false}, "axis": {"values": [15, 10, 5, 0, -5], "title": null}},
          "y": {"field": "y", "type": "quantitative", "scale": {"domain": [-0.05, 1.084], "nice": false, "zero": false}, "axis": null},
          "color": {"field": "label", "type": "nominal",
            "scale": {"domain": ["μ₁-OH","μ₂-OH","μ₃-OH","μ₁-OH (HD)","μ₂-OH (HD)","μ₃-OH (HD)","(HA) μ₁-OH","(HA)₂ μ₁-OH","(HA) μ₁-OH (HD)","(HA)₂ μ₁-OH (HD)","(HA) μ₂-OH","(HA) μ₂-OH (HD)","H₂O","(HA) OH₂","(HA) OH₂(HD)","(HA)₂ OH₂","(HA)₂ OH₂(HD)","Al-OH₂","Al-OH₂(HD)","(HA) Al-OH₂","(HA) Al-OH₂(HD)"],
                      "range": ["#6a0a1a","#9c0d14","#c0161a","#de3a16","#f25a1e","#f7822e","#f9a23e","#fbbd3c","#e4d838","#c6ea5a","#a6f25c","#7ef04a","#4ee070","#22e0a6","#14c8be","#1cb4d6","#2e96ee","#3e74ee","#3c52d2","#30309c","#1e0838"]},
            "legend": {"orient": "none", "legendX": 260, "legendY": 152, "title": null, "symbolType": "circle", "symbolSize": 36, "symbolStrokeWidth": 0, "rowPadding": 10.0, "labelFontSize": 11, "labelOffset": 3, "labelLimit": 200}
          }
        }
      },
      {
        "data": {"name": "lines"},
        "transform": [{"filter": {"field": "p", "equal": "b"}}],
        "mark": {"type": "line", "strokeWidth": 1.2},
        "encoding": {
          "x": {"field": "x", "type": "quantitative"},
          "y": {"field": "y", "type": "quantitative"},
          "stroke": {"field": "s", "type": "nominal", "scale": {"domain": ["r", "h"], "range": ["#ff1a1a", "#000000"]}, "legend": null},
          "order": {"field": "x", "type": "quantitative"}
        }
      },
      {"data": {"values": [{}]}, "mark": {"type": "text", "text": "b", "fontSize": 16, "align": "center", "baseline": "middle", "color": "black"}, "encoding": {"x": {"datum": 14.52, "type": "quantitative"}, "y": {"datum": 1.02, "type": "quantitative"}}}
    ]
  },
  {
    "width": 239, "height": 145,
    "layer": [
      {
        "data": {"name": "pts"},
        "transform": [{"filter": {"field": "p", "equal": "c"}}, {"lookup": "k", "from": {"data": {"name": "species"}, "key": "k", "fields": ["label"]}}],
        "mark": {"type": "circle", "size": 10, "opacity": 1},
        "encoding": {
          "x": {"field": "x", "type": "quantitative", "scale": {"domain": [15, -5], "nice": false, "zero": false}, "axis": {"values": [15, 10, 5, 0, -5], "title": "¹H δ (ppm)"}},
          "y": {"field": "y", "type": "quantitative", "scale": {"domain": [-0.066, 1.135], "nice": false, "zero": false}, "axis": null},
          "color": {"field": "label", "type": "nominal",
            "scale": {"domain": ["μ₁-OH","μ₂-OH","μ₃-OH","μ₁-OH (HD)","μ₂-OH (HD)","μ₃-OH (HD)","(HA) μ₁-OH","(HA)₂ μ₁-OH","(HA) μ₁-OH (HD)","(HA)₂ μ₁-OH (HD)","(HA) μ₂-OH","(HA) μ₂-OH (HD)","H₂O","(HA) OH₂","(HA) OH₂(HD)","(HA)₂ OH₂","(HA)₂ OH₂(HD)","Al-OH₂","Al-OH₂(HD)","(HA) Al-OH₂","(HA) Al-OH₂(HD)"],
                      "range": ["#6a0a1a","#9c0d14","#c0161a","#de3a16","#f25a1e","#f7822e","#f9a23e","#fbbd3c","#e4d838","#c6ea5a","#a6f25c","#7ef04a","#4ee070","#22e0a6","#14c8be","#1cb4d6","#2e96ee","#3e74ee","#3c52d2","#30309c","#1e0838"]},
            "legend": {"orient": "none", "legendX": 260, "legendY": 152, "title": null, "symbolType": "circle", "symbolSize": 36, "symbolStrokeWidth": 0, "rowPadding": 10.0, "labelFontSize": 11, "labelOffset": 3, "labelLimit": 200}
          }
        }
      },
      {
        "data": {"name": "lines"},
        "transform": [{"filter": {"field": "p", "equal": "c"}}],
        "mark": {"type": "line", "strokeWidth": 1.2},
        "encoding": {
          "x": {"field": "x", "type": "quantitative"},
          "y": {"field": "y", "type": "quantitative"},
          "stroke": {"field": "s", "type": "nominal", "scale": {"domain": ["h", "r"], "range": ["#000000", "#ff1a1a"]}, "legend": null},
          "order": {"field": "x", "type": "quantitative"}
        }
      },
      {"data": {"values": [{}]}, "mark": {"type": "text", "text": "c", "fontSize": 16, "align": "center", "baseline": "middle", "color": "black"}, "encoding": {"x": {"datum": 14.86, "type": "quantitative"}, "y": {"datum": 0.96, "type": "quantitative"}}}
    ]
  }
]
}
